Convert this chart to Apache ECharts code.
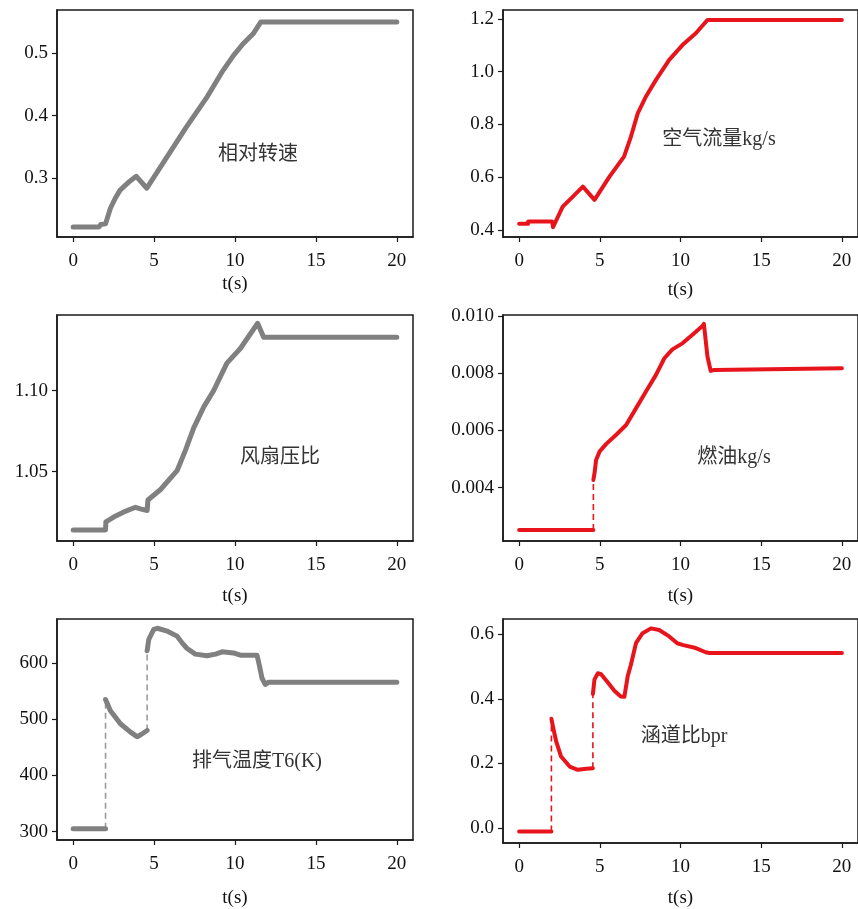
<!DOCTYPE html>
<html>
<head>
<meta charset="utf-8">
<script src="https://cdn.jsdelivr.net/npm/echarts@6/dist/echarts.min.js"></script>
<style>
html,body{margin:0;padding:0;background:#fff;}
#chart{width:858px;height:909px;}
</style>
</head>
<body>
<div id="chart"></div>
<script>
// ---------- data ----------
const xTicks = [0, 5, 10, 15, 20];
const xName = 't(s)';

const speedLabel = '相对转速';
const speedT = [0, 1.6, 1.7, 2.0, 2.3, 2.6, 2.9, 3.4, 3.9, 4.55, 5.2, 5.8, 7.0, 8.3, 9.2, 9.9, 10.5, 11.15, 11.6, 20];
const speedY = [0.222, 0.222, 0.226, 0.227, 0.252, 0.268, 0.281, 0.293, 0.303, 0.284, 0.31, 0.334, 0.382, 0.431, 0.47, 0.496, 0.515, 0.532, 0.55, 0.55];
const speedTicks = [0.3, 0.4, 0.5];

const airLabel = '空气流量kg/s';
const airT = [0, 0.55, 0.56, 2.05, 2.1, 2.7, 3.33, 3.95, 4.67, 5.6, 6.5, 6.93, 7.35, 7.86, 8.48, 9.3, 10.12, 10.95, 11.67, 20];
const airY = [0.423, 0.423, 0.432, 0.432, 0.41, 0.488, 0.526, 0.564, 0.514, 0.602, 0.678, 0.754, 0.842, 0.906, 0.969, 1.045, 1.101, 1.146, 1.196, 1.196];
const airTicks = [0.4, 0.6, 0.8, 1.0, 1.2];

const fanLabel = '风扇压比';
const fanT = [0, 2.0, 2.02, 2.5, 3.1, 3.85, 4.15, 4.57, 4.62, 5.4, 6.42, 6.93, 7.45, 8.07, 8.68, 9.5, 10.33, 11.4, 11.77, 11.87, 20];
const fanY = [1.014, 1.014, 1.019, 1.022, 1.025, 1.028, 1.027, 1.026, 1.0325, 1.039, 1.0506, 1.063, 1.077, 1.090, 1.100, 1.117, 1.126, 1.1416, 1.133, 1.133, 1.133];
const fanTicks = [1.05, 1.10];

const fuelLabel = '燃油kg/s';
const fuelT = [0, 4.6, 4.6, 4.6, 4.67, 4.77, 4.98, 5.4, 6.0, 6.63, 7.24, 7.86, 8.48, 9.0, 9.5, 10.12, 10.74, 11.36, 11.45, 11.67, 11.87, 12.08, 12.2, 20];
const fuelY = [0.00252, 0.00252, null, 0.00427, 0.0045, 0.00497, 0.00526, 0.00553, 0.00584, 0.00619, 0.00677, 0.00736, 0.00794, 0.00852, 0.00883, 0.00904, 0.00934, 0.00965, 0.00972, 0.00858, 0.00808, 0.00811, 0.00817, 0.00817];
const fuelTicks = [0.004, 0.006, 0.008, 0.010];

const t6Label = '排气温度T6(K)';
const t6T = [0, 2.0, 2.0, 2.0, 2.3, 2.92, 3.54, 3.95, 4.15, 4.57, 4.57, 4.57, 4.67, 4.98, 5.2, 5.8, 6.42, 6.73, 7.04, 7.55, 8.27, 8.8, 9.2, 9.9, 10.33, 11.36, 11.46, 11.67, 11.87, 12.08, 20];
const t6Y = [305, 305, null, 535, 515, 492, 477, 469, 472, 480, null, 622, 642, 660, 662, 657, 648, 636, 626, 616, 613, 616, 620, 618, 614, 614, 602, 573, 562, 566, 566];
const t6Ticks = [300, 400, 500, 600];

const bprLabel = '涵道比bpr';
const bprT = [0, 2.0, 2.0, 2.0, 2.1, 2.3, 2.6, 3.13, 3.64, 4.16, 4.57, 4.57, 4.57, 4.67, 4.88, 5.08, 5.5, 5.9, 6.3, 6.52, 6.73, 6.93, 7.24, 7.65, 8.17, 8.68, 9.3, 9.8, 10.12, 10.95, 11.56, 11.8, 20];
const bprY = [-0.011, -0.011, null, 0.338, 0.313, 0.267, 0.221, 0.19, 0.18, 0.183, 0.185, null, 0.415, 0.46, 0.479, 0.476, 0.45, 0.425, 0.407, 0.406, 0.47, 0.506, 0.572, 0.603, 0.618, 0.613, 0.593, 0.572, 0.567, 0.557, 0.544, 0.542, 0.542];
const bprTicks = [0.0, 0.2, 0.4, 0.6];

// ---------- layout / style ----------
const GRAY = '#808080', GRAY_D = '#9a9a9a', RED = '#e8141b';
const FONT = '"Liberation Serif", "Noto Sans CJK SC", serif';

const panels = [
  {t: speedT, y: speedY, ticks: speedTicks, dec: 1, label: speedLabel, color: GRAY, dash: GRAY_D, w: 5,
   grid: {left: 57, top: 10, width: 356, height: 227}, ymin: 0.206, ymax: 0.569, nameGap: 38, txt: [258, 155]},
  {t: airT, y: airY, ticks: airTicks, dec: 1, label: airLabel, color: RED, dash: RED, w: 4,
   grid: {left: 503, top: 10, width: 356, height: 227}, ymin: 0.373, ymax: 1.234, nameGap: 44, txt: [719, 140]},
  {t: fanT, y: fanY, ticks: fanTicks, dec: 2, label: fanLabel, color: GRAY, dash: GRAY_D, w: 5,
   grid: {left: 57, top: 315, width: 356, height: 226}, ymin: 1.0072, ymax: 1.1467, nameGap: 46, txt: [280, 458]},
  {t: fuelT, y: fuelY, ticks: fuelTicks, dec: 3, label: fuelLabel, color: RED, dash: RED, w: 4,
   grid: {left: 503, top: 315, width: 356, height: 226}, ymin: 0.00214, ymax: 0.01003, nameGap: 46, txt: [734, 458]},
  {t: t6T, y: t6Y, ticks: t6Ticks, dec: 0, label: t6Label, color: GRAY, dash: GRAY_D, w: 5,
   grid: {left: 57, top: 619, width: 356, height: 227}, ymin: 285, ymax: 678.5, nameGap: 49, txt: [257, 762]},
  {t: bprT, y: bprY, ticks: bprTicks, dec: 1, label: bprLabel, color: RED, dash: RED, w: 4,
   grid: {left: 503, top: 619, width: 356, height: 227}, ymin: -0.0467, ymax: 0.647, nameGap: 46, txt: [684, 737]}
];

const option = {animation: false, backgroundColor: '#fff', grid: [], xAxis: [], yAxis: [], series: [], graphic: []};

panels.forEach((p, i) => {
  option.grid.push(Object.assign({show: true, borderColor: '#1a1a1a', borderWidth: 1.5, containLabel: false}, p.grid));
  option.xAxis.push({
    type: 'value', gridIndex: i, min: -1, max: 21,
    name: xName, nameLocation: 'middle', nameGap: p.nameGap,
    nameTextStyle: {fontFamily: FONT, fontSize: 19, color: '#111'},
    axisLine: {show: true, onZero: false, lineStyle: {color: '#1a1a1a', width: 1.5}},
    axisTick: {show: true, inside: false, length: 5, customValues: xTicks, lineStyle: {color: '#1a1a1a', width: 1.2}},
    axisLabel: {customValues: xTicks, margin: 15, fontFamily: FONT, fontSize: 19, color: '#111'},
    splitLine: {show: false}
  });
  option.yAxis.push({
    type: 'value', gridIndex: i, min: p.ymin, max: p.ymax,
    axisLine: {show: true, onZero: false, lineStyle: {color: '#1a1a1a', width: 1.5}},
    axisTick: {show: true, inside: false, length: 5, customValues: p.ticks, lineStyle: {color: '#1a1a1a', width: 1.2}},
    axisLabel: {customValues: p.ticks, margin: 9, fontFamily: FONT, fontSize: 19, color: '#111',
      formatter: (v) => Number(v).toFixed(p.dec)},
    splitLine: {show: false}
  });
  const main = p.t.map((t, k) => [t, p.y[k] === null ? '-' : p.y[k]]);
  option.series.push({
    type: 'line', xAxisIndex: i, yAxisIndex: i, data: main, showSymbol: false, symbol: 'none',
    connectNulls: false, lineStyle: {color: p.color, width: p.w, cap: 'round', join: 'round'}, z: 3
  });
  // dashed jumps across breaks
  p.y.forEach((v, k) => {
    if (v === null) {
      option.series.push({
        type: 'line', xAxisIndex: i, yAxisIndex: i, showSymbol: false, symbol: 'none',
        data: [[p.t[k - 1], p.y[k - 1]], [p.t[k + 1], p.y[k + 1]]],
        lineStyle: {color: p.dash, width: 1.6, type: [6, 4]}, z: 2
      });
    }
  });
  option.graphic.push({
    type: 'text', x: p.txt[0], y: p.txt[1], z: 10,
    style: {text: p.label, align: 'center', verticalAlign: 'middle', fontFamily: FONT, fontSize: 20, fill: '#333'}
  });
});

const chart = echarts.init(document.getElementById('chart'), null, {renderer: 'canvas'});
chart.setOption(option);
</script>
</body>
</html>
